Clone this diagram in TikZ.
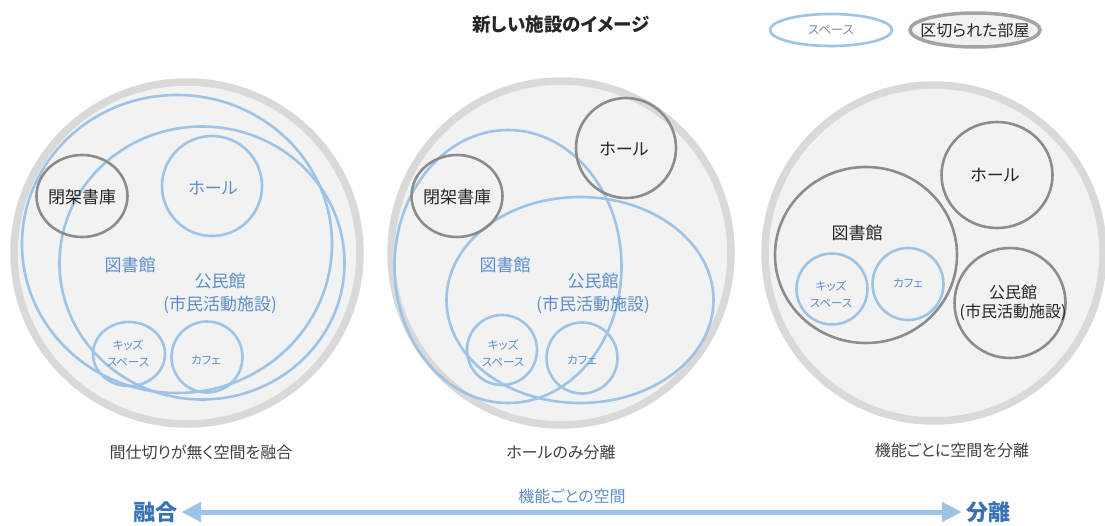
\documentclass[tikz,border=0pt]{standalone}
\usepackage{fontspec}
\setmainfont{Noto Sans CJK JP}[RawFeature=+palt]
\usetikzlibrary{shapes.geometric,arrows.meta}
\definecolor{outerfill}{HTML}{F2F2F2}
\definecolor{outerline}{HTML}{D9D9D9}
\definecolor{bluel}{HTML}{9DC3E6}
\definecolor{roomline}{HTML}{8C8C8C}
\definecolor{bluetext}{HTML}{5B8FCB}
\definecolor{darktext}{HTML}{262626}
\definecolor{captext}{HTML}{404040}
\definecolor{strongblue}{HTML}{3A72B4}
\definecolor{legtext}{HTML}{7F8CA8}
\begin{document}
\begin{tikzpicture}[x=1pt,y=-1pt,
  outer/.style={ellipse, draw=outerline, line width=7.5pt, fill=outerfill, inner sep=0pt},
  spc/.style={ellipse, draw=bluel, line width=2.6pt, inner sep=0pt},
  room/.style={ellipse, draw=roomline, line width=2.6pt, inner sep=0pt},
  sz/.style 2 args={minimum width=#1pt, minimum height=#2pt},
  btxt/.style={text=bluetext, font=\fontsize{17}{23}\selectfont, align=center, inner sep=0pt},
  dtxt/.style={text=darktext, font=\fontsize{17}{20}\selectfont, align=center, inner sep=0pt},
  stxt/.style={text=bluetext, font=\fontsize{11.5}{17}\selectfont, align=center, inner sep=0pt},
  captn/.style={text=captext, font=\fontsize{16}{18}\selectfont, inner sep=0pt},
  pole/.style={text=strongblue, font=\fontsize{22}{24}\selectfont\bfseries, inner sep=1pt}
]
\useasboundingbox (0,0) rectangle (1105,525);

% ---------- title and legend ----------
\node[text=darktext, font=\fontsize{18.5}{20}\selectfont\bfseries] (title) at (561,24) {新しい施設のイメージ};
\node[ellipse, draw=bluel, line width=2.6pt, fill=white, sz={122}{32}, inner sep=0pt] (legspc) at (831,30) {};
\node[text=legtext, font=\fontsize{12.5}{14}\selectfont] (legspctxt) at (831,30) {スペース};
\node[ellipse, draw=roomline!80, line width=3.5pt, fill=outerfill, sz={130}{34}, inner sep=0pt] (legroom) at (975,30) {};
\node[dtxt, font=\fontsize{16}{18}\selectfont] (legroomtxt) at (975,30) {区切られた部屋};

% ---------- left panel ----------
\node[outer, sz={346}{342}] (Lout) at (187,253) {};
\node[spc, sz={310}{298}] (Llib) at (177,244) {};
\node[spc, sz={285}{273}] (Lcom) at (202,263) {};
\node[spc, sz={100}{100}] (Lhall) at (212,186) {};
\node[room, sz={91}{82}] (Lstack) at (82,196) {};
\node[spc, sz={72}{64}] (Lkids) at (129,354) {};
\node[spc, sz={71}{71}] (Lcafe) at (207,357) {};
\node[btxt] (Lhallt) at (213,188) {ホール};
\node[dtxt] (Lstackt) at (82,197) {閉架書庫};
\node[btxt] (Llibt) at (130,265) {図書館};
\node[btxt] (Lcomt) at (220,293.5) {公民館\\(市民活動施設)};
\node[stxt] (Lkidst) at (128,353.5) {キッズ\\スペース};
\node[stxt] (Lcafet) at (206,360) {カフェ};

% ---------- middle panel ----------
\node[outer, sz={340}{344}] (Mout) at (561,253) {};
\node[spc, sz={227}{273}] (Mlib) at (508,266.5) {};
\node[spc, sz={267}{206}] (Mcom) at (580,300) {};
\node[room, sz={100}{100}] (Mhall) at (626,148) {};
\node[room, sz={91}{82}] (Mstack) at (457,196) {};
\node[spc, sz={70}{70}] (Mkids) at (502,350) {};
\node[spc, sz={71}{71}] (Mcafe) at (582,358) {};
\node[dtxt] (Mhallt) at (624,149) {ホール};
\node[dtxt] (Mstackt) at (457,197) {閉架書庫};
\node[btxt] (Mlibt) at (505,265) {図書館};
\node[btxt] (Mcomt) at (593,293.5) {公民館\\(市民活動施設)};
\node[stxt] (Mkidst) at (503,353.5) {キッズ\\スペース};
\node[stxt] (Mcafet) at (582,360) {カフェ};

% ---------- right panel ----------
\node[outer, sz={338}{336}] (Rout) at (934,253) {};
\node[room, sz={182}{176}] (Rlib) at (866,255) {};
\node[room, sz={111}{106}] (Rhall) at (997,175) {};
\node[room, sz={111}{110}] (Rcom) at (1010,303) {};
\node[spc, sz={71}{71}] (Rkids) at (832,289) {};
\node[spc, sz={71}{72}] (Rcafe) at (908,284) {};
\node[dtxt] (Rhallt) at (995,175) {ホール};
\node[dtxt] (Rlibt) at (857,233) {図書館};
\node[dtxt, font=\fontsize{16}{19}\selectfont] (Rcomt) at (1013,302.5) {公民館\\(市民活動施設)};
\node[stxt] (Rkidst) at (831,294) {キッズ\\スペース};
\node[stxt] (Rcafet) at (908,283) {カフェ};

% ---------- captions ----------
\node[captn] (capL) at (201,452) {間仕切りが無く空間を融合};
\node[captn] (capM) at (561,452) {ホールのみ分離};
\node[captn] (capR) at (952,450) {機能ごとに空間を分離};

% ---------- scale arrow ----------
\node[pole] (fuse) at (155,512) {融合};
\node[pole] (sep) at (988,512) {分離};
\draw[draw=bluel, line width=5pt, {Triangle[width=19pt,length=20pt]}-{Triangle[width=19pt,length=20pt]}, shorten <=3pt, shorten >=3pt] (fuse.east) -- (sep.west);
\node[text=bluetext, font=\fontsize{16}{20}\selectfont] (axis) at (572,496) {機能ごとの空間};
\end{tikzpicture}
\end{document}
